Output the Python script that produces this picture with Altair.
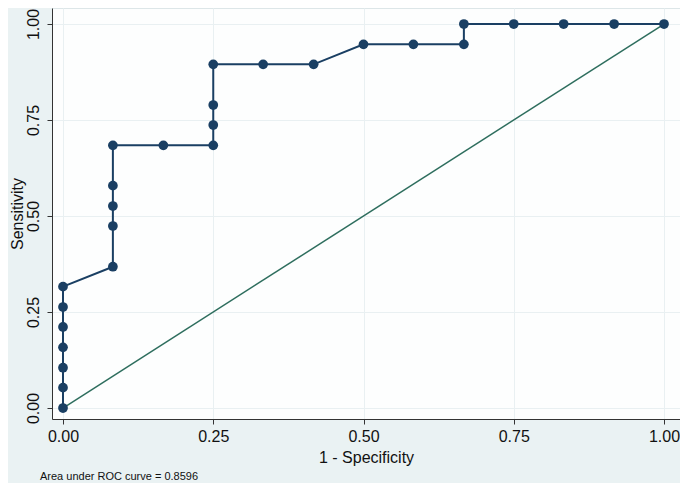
import altair as alt
import pandas as pd

# ROC curve points
fpr = [0, 0, 0, 0, 0, 0, 0,
       0.083, 0.083, 0.083, 0.083, 0.083,
       0.167,
       0.25, 0.25, 0.25, 0.25,
       0.333, 0.417,
       0.5, 0.583,
       0.667, 0.667,
       0.75, 0.833, 0.917, 1.0]
tpr = [0, 0.053, 0.105, 0.158, 0.211, 0.263, 0.316,
       0.368, 0.474, 0.526, 0.579, 0.684,
       0.684,
       0.684, 0.737, 0.789, 0.895,
       0.895, 0.895,
       0.947, 0.947,
       0.947, 1.0,
       1.0, 1.0, 1.0, 1.0]
diag_x = [0, 1]
diag_y = [0, 1]
ticks = [0, 0.25, 0.5, 0.75, 1.0]
auc_note = "Area under ROC curve = 0.8596"

roc = pd.DataFrame({"fpr": fpr, "tpr": tpr, "order": list(range(len(fpr)))})
diag = pd.DataFrame({"fpr": diag_x, "tpr": diag_y})

FONT = "Liberation Sans"
NAVY = "#1a3f63"
GREEN = "#2e6e5e"

xs = alt.Scale(domain=[-0.0183, 1.0266], nice=False, zero=False)
ys = alt.Scale(domain=[-0.0286, 1.0417], nice=False, zero=False)

common = dict(grid=True, gridColor="#e9f0f2", gridWidth=1,
              domainColor="#333333", tickColor="#333333", tickSize=5,
              labelFontSize=16, titleFontSize=16, labelFont=FONT, titleFont=FONT,
              labelColor="#111111", titleColor="#111111", titleFontWeight="normal",
              labelFlush=False, labelOverlap=False)
xaxis = alt.Axis(values=ticks, format=".2f", title="1 - Specificity",
                 labelPadding=4, titlePadding=5, **common)
yaxis = alt.Axis(values=ticks, format=".2f", title="Sensitivity",
                 labelAngle=-90, labelAlign="center", labelBaseline="bottom",
                 labelPadding=6, titlePadding=0, **common)

diag_line = alt.Chart(diag).mark_line(color=GREEN, strokeWidth=1.5).encode(
    x=alt.X("fpr:Q", scale=xs, axis=xaxis),
    y=alt.Y("tpr:Q", scale=ys, axis=yaxis),
)
roc_line = alt.Chart(roc).mark_line(color=NAVY, strokeWidth=2).encode(
    x=alt.X("fpr:Q", scale=xs),
    y=alt.Y("tpr:Q", scale=ys),
    order="order:Q",
)
roc_pts = alt.Chart(roc).mark_circle(color=NAVY, size=95, opacity=1).encode(
    x=alt.X("fpr:Q", scale=xs),
    y=alt.Y("tpr:Q", scale=ys),
)

chart = (diag_line + roc_line + roc_pts).properties(
    width=628, height=411,
    autosize=alt.AutoSizeParams(type="none"),
    padding={"left": 44, "top": 0, "right": 0, "bottom": 64},
    background="#eaf2f3",
    title=alt.TitleParams(auc_note, orient="bottom", anchor="start", frame="group",
                          fontSize=11, font=FONT, fontWeight="normal", color="#111111",
                          dx=-12, offset=6),
).configure_view(fill="#fdfefe", stroke="#dde6e8", strokeWidth=1)

chart.save("out.html", embed_options={"renderer": "svg", "actions": False})
